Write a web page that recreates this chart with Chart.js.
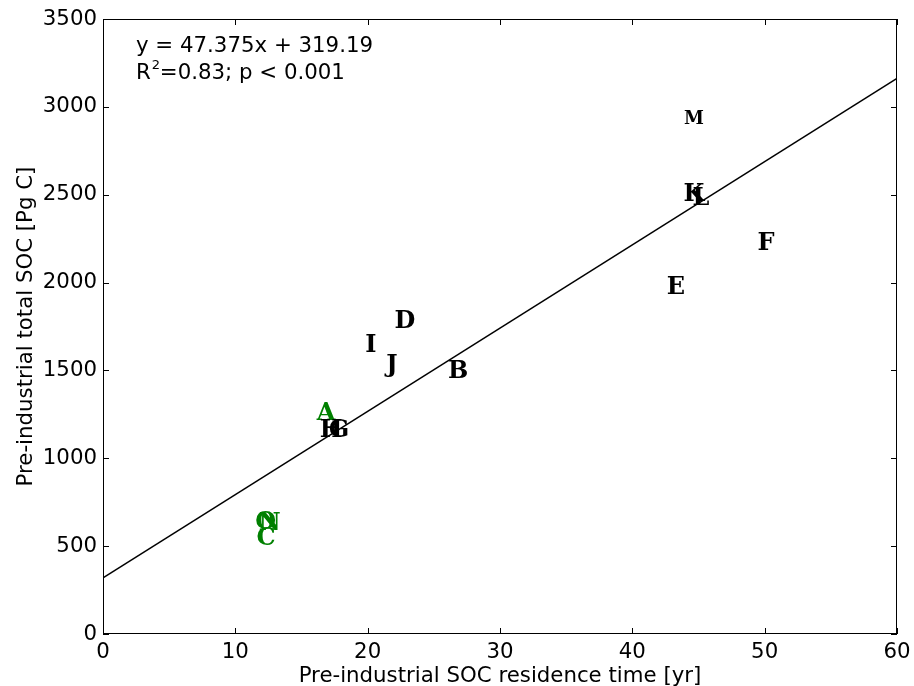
<!DOCTYPE html>
<html><head><meta charset="utf-8">
<script src="https://cdn.jsdelivr.net/npm/chart.js@4/dist/chart.umd.min.js"></script>
<style>html,body{margin:0;padding:0;background:#fff}#wrap{width:914px;height:686px}</style>
</head><body><div id="wrap"><canvas id="c" width="914" height="686"></canvas></div>
<script>
const labels = ["A","B","C","D","E","F","G","H","I","J","K","L","M","N","O"];
const xValues = [16.85,26.83,12.32,22.82,43.30,50.10,17.83,17.23,20.25,21.84,44.66,45.19,44.66,12.6,12.3];
const yValues = [1269,1508,558,1793,1986,2237,1172,1172,1656,1542,2515,2493,2937,640,650];
const colors = ["green","black","green","black","black","black","black","black","black","black","black","black","black","green","green"];
const slope = 47.375, intercept = 319.19;
const fitX = [0, 60];
const xTicks = [0,10,20,30,40,50,60];
const yTicks = [0,500,1000,1500,2000,2500,3000,3500];

const points = xValues.map((x,i)=>({x:x,y:yValues[i]}));
const fitLine = fitX.map(x=>({x:x,y:slope*x+intercept}));
const FS = 21.3;

const letterPlugin = {
  id:'letters',
  afterDatasetsDraw(chart){
    const ctx = chart.ctx;
    const meta = chart.getDatasetMeta(0);
    ctx.save();
    ctx.textAlign='center'; ctx.textBaseline='alphabetic';
    meta.data.forEach((pt,i)=>{
      const sz = labels[i]==='M' ? 18 : 24;
      ctx.font = 'bold '+sz+'px "DejaVu Serif"';
      ctx.fillStyle = colors[i];
      ctx.fillText(labels[i], pt.x, pt.y + sz*0.729/2);
    });
    ctx.restore();
  }
};
const framePlugin = {
  id:'frame',
  afterDraw(chart){
    const ctx = chart.ctx, a = chart.chartArea;
    const xs = chart.scales.x, ys = chart.scales.y;
    ctx.save();
    ctx.strokeStyle='#000'; ctx.lineWidth=1;
    ctx.strokeRect(a.left+0.5, a.top+0.5, a.right-a.left-1, a.bottom-a.top-1);
    ctx.beginPath();
    xTicks.forEach(v=>{const p=Math.round(xs.getPixelForValue(v))+0.5;
      ctx.moveTo(p,a.bottom); ctx.lineTo(p,a.bottom-6);
      ctx.moveTo(p,a.top); ctx.lineTo(p,a.top+6);});
    yTicks.forEach(v=>{const p=Math.round(ys.getPixelForValue(v))+0.5;
      ctx.moveTo(a.left,p); ctx.lineTo(a.left+6,p);
      ctx.moveTo(a.right,p); ctx.lineTo(a.right-6,p);});
    ctx.stroke();
    ctx.fillStyle='#000'; ctx.textAlign='left'; ctx.textBaseline='alphabetic';
    ctx.font=FS+'px "DejaVu Sans"';
    ctx.fillText('y = 47.375x + 319.19', a.left+33, a.top+33);
    ctx.fillText('R', a.left+33, a.top+60);
    const rw = ctx.measureText('R').width;
    ctx.font='13px "DejaVu Sans"';
    ctx.fillText('2', a.left+33+rw+1, a.top+50);
    ctx.font=FS+'px "DejaVu Sans"';
    ctx.fillText('=0.83; p < 0.001', a.left+33+rw+9, a.top+60);
    ctx.restore();
  }
};

new Chart(document.getElementById('c'), {
  type:'scatter',
  data:{datasets:[
    {data:points, pointRadius:0, pointHoverRadius:0, showLine:false},
    {data:fitLine, showLine:true, borderColor:'#000', borderWidth:1.5, pointRadius:0, fill:false}
  ]},
  options:{
    responsive:false, animation:false, devicePixelRatio:1,
    layout:{padding:{top:19,right:17,bottom:0,left:14}},
    plugins:{legend:{display:false},tooltip:{enabled:false}},
    scales:{
      x:{type:'linear',min:0,max:60,
        afterBuildTicks(s){s.ticks=xTicks.map(v=>({value:v}));},
        afterFit(s){s.height=52; s.paddingRight=0; s.paddingLeft=0;},
        grid:{display:false, drawTicks:false}, border:{display:false},
        ticks:{color:'#000',font:{family:'DejaVu Sans',size:FS},padding:6,maxRotation:0,callback:v=>String(v)},
        title:{display:true,text:'Pre-industrial SOC residence time [yr]',color:'#000',font:{family:'DejaVu Sans',size:FS},padding:{top:0,bottom:-3}}},
      y:{type:'linear',min:0,max:3500,
        afterBuildTicks(s){s.ticks=yTicks.map(v=>({value:v}));},
        afterFit(s){s.width=89; s.paddingTop=0; s.paddingBottom=0;},
        grid:{display:false, drawTicks:false}, border:{display:false},
        ticks:{color:'#000',font:{family:'DejaVu Sans',size:FS},padding:6,callback:v=>String(v)},
        title:{display:true,text:'Pre-industrial total SOC [Pg C]',color:'#000',font:{family:'DejaVu Sans',size:FS},padding:{top:0,bottom:0}}}
    }
  },
  plugins:[letterPlugin, framePlugin]
});
</script></body></html>
